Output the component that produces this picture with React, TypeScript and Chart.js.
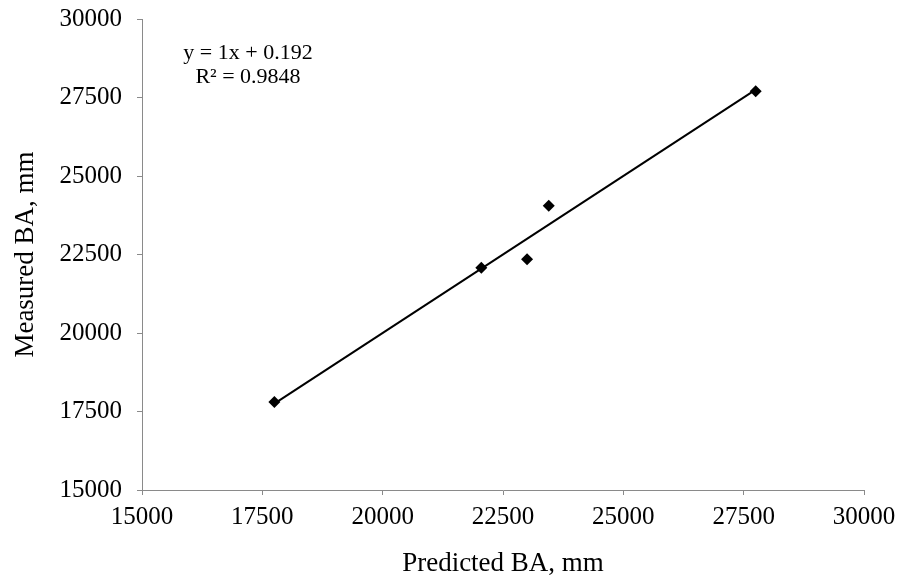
import React, { useEffect, useRef } from "react";
import { Chart, registerables } from "chart.js";

Chart.register(...registerables);

const predicted = [17750, 22050, 23000, 23450, 27750];
const measured = [17800, 22075, 22350, 24050, 27700];
const trendX = [17750, 27750];
const trendY = [17750.192, 27750.192];
const equationLines = ["y = 1x + 0.192", "R² = 0.9848"];
const axisMin = 15000;
const axisMax = 30000;
const axisStep = 2500;
const xTitle = "Predicted BA, mm";
const yTitle = "Measured BA, mm";

const FONT = "'Liberation Serif', 'Times New Roman', serif";
const AXIS_GREY = "#8a8a8a";

const equationPlugin = {
  id: "equationLabel",
  afterDraw(chart: any) {
    const { ctx, chartArea } = chart;
    ctx.save();
    ctx.fillStyle = "#000";
    ctx.font = `22px ${FONT}`;
    ctx.textAlign = "center";
    ctx.textBaseline = "middle";
    const cx = chartArea.left + 106;
    ctx.fillText(equationLines[0], cx, 53);
    ctx.fillText(equationLines[1], cx, 77);
    ctx.restore();
  },
};

export default function App() {
  const ref = useRef<HTMLCanvasElement | null>(null);

  useEffect(() => {
    document.body.style.margin = "0";
    if (!ref.current) return;
    const chart = new Chart(ref.current, {
      type: "scatter",
      data: {
        datasets: [
          {
            type: "line",
            label: "Trend",
            data: trendX.map((x, i) => ({ x, y: trendY[i] })),
            borderColor: "#000",
            borderWidth: 2,
            pointRadius: 0,
            fill: false,
          } as any,
          {
            label: "Data",
            data: predicted.map((x, i) => ({ x, y: measured[i] })),
            pointStyle: "rectRot",
            pointRadius: 6,
            backgroundColor: "#000",
            borderColor: "#000",
            borderWidth: 0,
          },
        ],
      },
      options: {
        animation: false,
        responsive: false,
        maintainAspectRatio: false,
        layout: { padding: { top: 19, right: 35, left: 0, bottom: 0 } },
        plugins: {
          legend: { display: false },
          tooltip: { enabled: false },
        },
        scales: {
          x: {
            type: "linear",
            min: axisMin,
            max: axisMax,
            ticks: {
              stepSize: axisStep,
              color: "#000",
              font: { family: FONT, size: 25 },
              padding: 7,
              maxRotation: 0,
              callback: (v: any) => String(v),
            },
            grid: {
              display: true,
              drawOnChartArea: false,
              drawTicks: true,
              tickLength: 5,
              color: AXIS_GREY,
            },
            border: { display: true, color: AXIS_GREY, width: 1 },
            title: {
              display: true,
              text: xTitle,
              color: "#000",
              font: { family: FONT, size: 27 },
              padding: { top: 0, bottom: 0 },
            },
            afterFit: (scale: any) => {
              scale.height = 90;
              scale.paddingLeft = 0;
              scale.paddingRight = 0;
            },
          },
          y: {
            type: "linear",
            min: axisMin,
            max: axisMax,
            ticks: {
              stepSize: axisStep,
              color: "#000",
              font: { family: FONT, size: 25 },
              padding: 15,
              callback: (v: any) => String(v),
            },
            grid: {
              display: true,
              drawOnChartArea: false,
              drawTicks: true,
              tickLength: 5,
              color: AXIS_GREY,
            },
            border: { display: true, color: AXIS_GREY, width: 1 },
            title: {
              display: true,
              text: yTitle,
              color: "#000",
              font: { family: FONT, size: 27 },
              padding: { top: 10, bottom: 0 },
            },
            afterFit: (scale: any) => {
              scale.width = 142;
              scale.paddingTop = 0;
              scale.paddingBottom = 0;
            },
          },
        },
      },
      plugins: [equationPlugin],
    });
    return () => chart.destroy();
  }, []);

  return (
    <div style={{ width: 899, height: 580, background: "#fff" }}>
      <canvas ref={ref} width={899} height={580} style={{ display: "block" }} />
    </div>
  );
}
